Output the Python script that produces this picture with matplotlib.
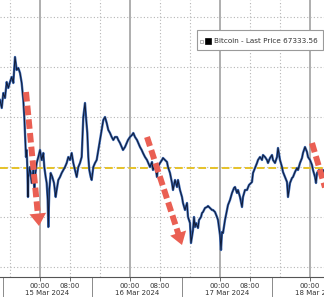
import numpy as np
import pandas as pd
import matplotlib
matplotlib.use('Agg')
import matplotlib.pyplot as plt
import matplotlib.dates as mdates
from matplotlib.patches import Rectangle

# ── Data (minutes from 15 Mar 2024 00:00, USD) ──
MINUTES = [
    -640, -612, -587, -560, -533, -507, -480, -453, -427, -400,
    -373, -347, -320, -293, -267, -251, -240, -224, -213, -203,
    -192, -187, -160, -133, -107, -91, -80, -53, -27, 0,
    27, 53, 69, 91, 107, 123, 133, 149, 171, 197,
    224, 251, 267, 293, 320, 347, 373, 400, 427, 453,
    480, 507, 533, 560, 587, 613, 640, 667, 693, 720,
    736, 757, 773, 789, 811, 827, 853, 880, 907, 933,
    960, 987, 1013, 1040, 1067, 1093, 1120, 1147, 1173, 1200,
    1232, 1253, 1280, 1307, 1328, 1360, 1387, 1408, 1440, 1472,
    1493, 1520, 1552, 1573, 1600, 1627, 1648, 1680, 1712, 1733,
    1760, 1792, 1808, 1840, 1872, 1888, 1920, 1952, 1968, 2000,
    2032, 2048, 2080, 2112, 2128, 2160, 2192, 2208, 2240, 2272,
    2288, 2320, 2352, 2368, 2400, 2416, 2448, 2464, 2480, 2496,
    2528, 2544, 2576, 2592, 2608, 2640, 2672, 2688, 2720, 2752,
    2768, 2800, 2832, 2848, 2880, 2896, 2912, 2928, 2960, 3008,
    3040, 3072, 3104, 3120, 3152, 3168, 3200, 3232, 3248, 3280,
    3312, 3344, 3392, 3408, 3440, 3472, 3488, 3520, 3552, 3568,
    3600, 3632, 3648, 3680, 3712, 3728, 3760, 3792, 3808, 3840,
    3872, 3888, 3920, 3952, 3968, 4000, 4032, 4048, 4080, 4112,
    4128, 4160, 4192, 4208, 4240, 4272, 4288, 4320, 4352, 4368,
    4400, 4416, 4432, 4464, 4496, 4528, 4544,
]
PRICE = [
    70680, 70360, 70960, 70760, 71400, 71160, 71400, 71600, 71360, 72400,
    71880, 71960, 71760, 71360, 70680, 70000, 69360, 68400, 68680, 68000,
    66800, 67600, 68000, 67360, 67880, 67080, 67600, 68160, 68400, 68680,
    68280, 68560, 68000, 67600, 67360, 66680, 65600, 67080, 67760, 67600,
    67360, 66800, 67080, 67480, 67600, 67760, 67880, 68000, 68160, 68400,
    68280, 68560, 68160, 67880, 67600, 68000, 68160, 68400, 70000, 70560,
    70000, 69360, 68400, 67880, 67600, 67480, 68000, 68160, 68280, 68680,
    69080, 69480, 69880, 70000, 69760, 69480, 69360, 69200, 69080, 69200,
    69200, 69080, 68960, 68800, 68680, 68800, 68960, 69080, 69200, 69280,
    69360, 69200, 69080, 68960, 68800, 68680, 68560, 68400, 68280, 68160,
    68000, 68200, 67880, 68080, 67600, 68000, 68160, 68280, 68360, 68280,
    68200, 68000, 67760, 67360, 67080, 67480, 67200, 67480, 67080, 66800,
    66560, 66280, 66560, 66000, 65760, 64960, 65480, 66000, 65600, 65760,
    65560, 65880, 66000, 66160, 66200, 66360, 66400, 66440, 66360, 66280,
    66280, 66200, 66000, 65880, 65280, 64680, 65400, 65360, 65880, 66480,
    66680, 66960, 67160, 67200, 66960, 67080, 66800, 66400, 66800, 67080,
    67080, 67280, 67400, 67760, 67960, 68160, 68280, 68400, 68280, 68480,
    68400, 68280, 68160, 68360, 68480, 68280, 68160, 68400, 68760, 68280,
    68000, 67800, 67600, 67400, 66800, 67360, 67560, 67600, 67800, 67960,
    67880, 68160, 68360, 68560, 68800, 68600, 68400, 68280, 68080, 67880,
    67600, 67360, 67760, 67880, 67800, 67880, 67800,
]

REF_LEVEL = 67960
LAST_PRICE = 67333.56
GRID_LEVELS = [64000, 66000, 68000, 70000, 72000, 74000]
DAYS = ['2024-03-14', '2024-03-15', '2024-03-16', '2024-03-17', '2024-03-18']
DAY_LABELS = ['15 Mar 2024', '16 Mar 2024', '17 Mar 2024', '18 Mar 2024']
# red "sell-off" arrows: (start min, start price, tip min, tip price)
ARROWS = [
    (-224, 71000, -16, 65640),
    (1712, 69200, 2272, 64880),
    (4352, 68960, 4736, 65680),
]
X_RANGE = (-640, 4544)
Y_RANGE = (63600, 74680)

BASE = pd.Timestamp('2024-03-15')
ARROW_RED = '#ea5f53'


def to_num(mins):
    return mdates.date2num(BASE + pd.to_timedelta(np.asarray(mins), unit='min'))


fig = plt.figure(figsize=(3.24, 2.97), dpi=100)
ax = fig.add_axes([0, 20 / 297, 1, 277 / 297])

t = to_num(MINUTES)
x0, x1 = to_num(list(X_RANGE))

# gridlines: solid at midnight, dotted every 8h, dotted horizontals
for d in DAYS:
    day = mdates.date2num(pd.Timestamp(d))
    ax.axvline(day, color='#a8a8a8', lw=1.3, zorder=1)
    for h in (8, 16):
        ax.axvline(day + h / 24, color='#b5b5b5', lw=0.8, ls=(0, (1, 2)), zorder=1)
for lvl in GRID_LEVELS:
    ax.axhline(lvl, color='#b5b5b5', lw=0.8, ls=(0, (1, 2)), zorder=1)

ax.axhline(REF_LEVEL, color='#e6c229', lw=1.4, ls=(0, (4, 2)), zorder=2)

ax.plot(t, PRICE, color='#3a67b3', lw=1.7, zorder=3)
ax.plot(t, PRICE, color='#0f1a35', lw=0.7, zorder=4)

# dashed shaft + solid head
for m0, p0, m1, p1 in ARROWS:
    xs, ys = to_num(m0), p0
    xt, yt = to_num(m1), p1
    xb, yb = xt - 0.1 * (xt - xs), yt - 0.1 * (yt - ys)
    ax.plot([xs, xb], [ys, yb], color=ARROW_RED, lw=4.3, ls=(0, (1.6, 0.7)),
            solid_capstyle='butt', zorder=5)
    ax.annotate('', xy=(xt, yt), xytext=(xb, yb),
                arrowprops=dict(arrowstyle='-|>,head_length=0.9,head_width=0.6',
                                lw=0, color=ARROW_RED, mutation_scale=10,
                                shrinkA=0, shrinkB=0),
                zorder=6, annotation_clip=False)

# x axis
ticks = []
labels = []
for d in DAYS[1:]:
    day = mdates.date2num(pd.Timestamp(d))
    for h, lab in ((0, '00:00'), (8, '08:00')):
        if x0 <= day + h / 24 <= x1:
            ticks.append(day + h / 24)
            labels.append(lab)
ax.set_xticks(ticks)
ax.set_xticklabels(labels, fontsize=5, color='#333333')
ax.tick_params(axis='x', length=3, width=0.6, color='#555555', pad=1.5)
ax.set_yticks([])
for s in ('top', 'left', 'right'):
    ax.spines[s].set_visible(False)
ax.spines['bottom'].set_color('#555555')
ax.spines['bottom'].set_linewidth(0.8)

trans = ax.get_xaxis_transform()
for d, lab in zip(DAYS[1:], DAY_LABELS):
    day = mdates.date2num(pd.Timestamp(d))
    ax.text(day + 2 / 24, -0.058, lab, transform=trans, ha='center', va='center',
            fontsize=5, color='#333333', clip_on=False)
for d in DAYS:
    sep = mdates.date2num(pd.Timestamp(d)) + 14 / 24
    ax.plot([sep, sep], [0, -0.075], transform=trans, color='#777777',
            lw=0.6, clip_on=False)
ax.set_xlim(x0, x1)
ax.set_ylim(*Y_RANGE)

# legend box
fig.patches.append(Rectangle((197 / 324, 247 / 297), 126 / 324, 20 / 297,
                             transform=fig.transFigure, facecolor='white',
                             edgecolor='#9a9a9a', lw=0.8, zorder=10))
fig.patches.append(Rectangle((199.5 / 324, 254.5 / 297), 3 / 324, 3 / 297,
                             transform=fig.transFigure, facecolor='white',
                             edgecolor='#999999', lw=0.5, zorder=11))
fig.patches.append(Rectangle((205 / 324, 253 / 297), 6 / 324, 6 / 297,
                             transform=fig.transFigure, facecolor='black',
                             edgecolor='black', lw=0.5, zorder=11))
fig.text(214 / 324, 256 / 297, f'Bitcoin - Last Price {LAST_PRICE:.2f}',
         fontsize=5.2, color='#333333', va='center', ha='left', zorder=12)

fig.savefig('out.png', dpi=100)
